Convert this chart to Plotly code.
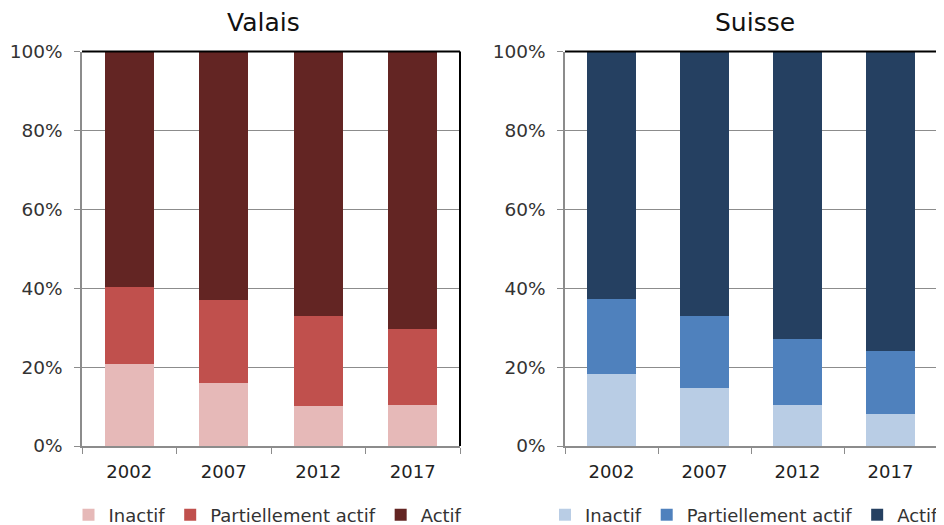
import plotly.graph_objects as go

years = ["2002", "2007", "2012", "2017"]
series_names = ["Inactif", "Partiellement actif", "Actif"]

valais_inactif = [20.9, 15.9, 10.1, 10.5]
valais_partiel = [19.5, 21.2, 22.8, 19.1]
valais_actif = [59.6, 62.9, 67.1, 70.4]

suisse_inactif = [18.3, 14.7, 10.5, 8.0]
suisse_partiel = [18.9, 18.3, 16.6, 16.2]
suisse_actif = [62.8, 67.0, 72.9, 75.8]

valais_colors = ["#E6B9B8", "#C0504D", "#632523"]
suisse_colors = ["#B9CDE5", "#4F81BD", "#254061"]

FONT = "DejaVu Sans"
# page body has an 8px default margin; figure is sized so that it fits the 944x525 window
OFF = 8
W, H = 944 - OFF, 525 - OFF


def px(p):
    return (p - OFF) / W


def py(p):
    return 1 - (p - OFF) / H


fig = go.Figure()

for name, vals, col in zip(series_names, [valais_inactif, valais_partiel, valais_actif], valais_colors):
    fig.add_trace(go.Bar(x=years, y=vals, name=name, marker=dict(color=col, line=dict(width=0)),
                         xaxis="x", yaxis="y", legend="legend"))
for name, vals, col in zip(series_names, [suisse_inactif, suisse_partiel, suisse_actif], suisse_colors):
    fig.add_trace(go.Bar(x=years, y=vals, name=name, marker=dict(color=col, line=dict(width=0)),
                         xaxis="x2", yaxis="y2", legend="legend2"))

ydom = [py(446), py(51.5)]
x1dom = [px(82), px(460)]
x2dom = [px(565), px(937)]

yax = dict(range=[0, 100], tickvals=[0, 20, 40, 60, 80, 100], ticktext=["0%", "20%", "40%", "60%", "80%", "100%"],
           showgrid=True, gridcolor="#8c8c8c", gridwidth=1.3, showline=True, linecolor="#8c8c8c", linewidth=1.5,
           ticks="outside", ticklen=6, tickcolor="#8c8c8c", tickfont=dict(family=FONT, size=18.5, color="#333333"),
           ticklabelstandoff=8, zeroline=False, fixedrange=True, domain=ydom, automargin=False)
xax = dict(showline=True, linecolor="#8c8c8c", linewidth=1.5, ticks="outside", ticklen=6, tickcolor="#8c8c8c",
           tickson="boundaries", tickfont=dict(family=FONT, size=18, color="#222222"), showgrid=False,
           ticklabelstandoff=9, automargin=False)

legfont = dict(family=FONT, size=18, color="#333333")
fig.update_layout(
    width=W, height=H, barmode="stack", bargap=0.48,
    margin=dict(l=0, r=0, t=0, b=0, autoexpand=False),
    paper_bgcolor="white", plot_bgcolor="white",
    font=dict(family=FONT, size=16, color="#222222"),
    xaxis=dict(xax, domain=x1dom, anchor="y"),
    yaxis=dict(yax, anchor="x"),
    xaxis2=dict(xax, domain=x2dom, anchor="y2"),
    yaxis2=dict(yax, anchor="x2"),
    legend=dict(orientation="h", x=px(268), xanchor="center", y=py(515), yanchor="middle",
                font=legfont, itemwidth=30, traceorder="normal"),
    legend2=dict(orientation="h", x=px(944), xanchor="right", y=py(515), yanchor="middle",
                 font=legfont, itemwidth=30, traceorder="normal"),
    showlegend=True,
)

for xr, yr in [("x domain", "y domain"), ("x2 domain", "y2 domain")]:
    fig.add_shape(type="line", xref=xr, yref=yr, x0=0, x1=1, y0=1, y1=1, line=dict(color="black", width=2))
    fig.add_shape(type="line", xref=xr, yref=yr, x0=1, x1=1, y0=0, y1=1, line=dict(color="black", width=2))

for title, cx in [("Valais", 263.5), ("Suisse", 755)]:
    fig.add_annotation(text=title, x=px(cx), y=py(23), xref="paper", yref="paper",
                       showarrow=False, font=dict(family=FONT, size=25, color="#111111"), xanchor="center",
                       yanchor="middle")

fig.write_html("out.html")
